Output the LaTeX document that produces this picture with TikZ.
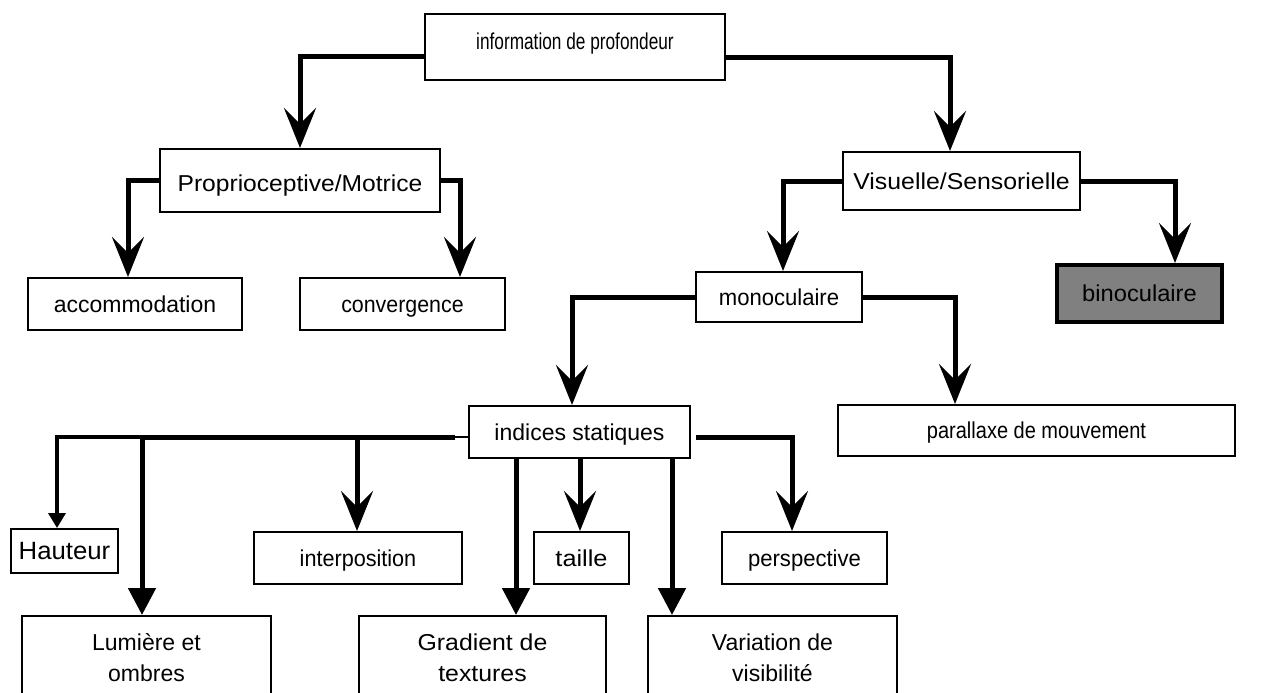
\documentclass[tikz,border=0pt]{standalone}
\usepackage{fontspec}
\setmainfont{Liberation Sans}
\usetikzlibrary{arrows.meta}

% horizontally scaled label text
\newcommand{\sx}[2]{\scalebox{#1}[1]{#2}}

\tikzset{
  box/.style={draw=black, line width=2pt, fill=white, inner sep=0pt,
              font=\fontsize{23}{31}\selectfont},
  one/.style={box, text height=19pt, text depth=3pt},
  two/.style={box, align=center, minimum width=#1, minimum height=84pt},
  conn/.style={line width=5pt, black},
  barb/.style={conn, -{Stealth[length=40pt, width=32pt, inset=16pt]}},
  tri/.style={conn, -{Triangle[length=27pt, width=27pt]}},
  smalltri/.style={line width=3.5pt, -{Triangle[length=15pt, width=17pt]}},
}

\begin{document}
\begin{tikzpicture}[x=1pt, y=-1pt]
\useasboundingbox (0,0) rectangle (1263,693);

% boxes
\node[one, minimum width=300pt, minimum height=66pt] (info) at (575,47) {\raisebox{5pt}{\sx{0.75}{information de profondeur}}};
\node[one, minimum width=280pt, minimum height=63pt] (prop) at (300,180.5) {\raisebox{-3pt}{\sx{1.07}{Proprioceptive/Motrice}}};
\node[one, minimum width=237pt, minimum height=58pt] (vis) at (961.5,181) {\sx{1.08}{Visuelle/Sensorielle}};
\node[one, minimum width=214pt, minimum height=52pt] (acc) at (135,304) {accommodation};
\node[one, minimum width=205pt, minimum height=52pt] (conv) at (402.5,304) {\sx{0.93}{convergence}};
\node[one, minimum width=166pt, minimum height=50pt] (mono) at (779,297) {\sx{0.96}{monoculaire}};
\node[one, line width=4pt, fill=black!50, minimum width=165pt, minimum height=57pt] (bino) at (1139.5,293.5) {\sx{1.03}{binoculaire}};
\node[one, minimum width=397pt, minimum height=51pt] (para) at (1036.5,430.5) {\sx{0.87}{parallaxe de mouvement}};
\node[one, minimum width=221pt, minimum height=52pt] (ind) at (579.5,432) {indices statiques};
\node[one, minimum width=107pt, minimum height=44pt, font=\fontsize{25}{31}\selectfont] (haut) at (64.5,551) {\sx{1.03}{Hauteur}};
\node[one, minimum width=208pt, minimum height=52pt] (interp) at (358,558) {\sx{0.94}{interposition}};
\node[one, minimum width=95pt, minimum height=52pt] (taille) at (581.5,558) {\sx{1.1}{taille}};
\node[one, minimum width=165pt, minimum height=52pt] (persp) at (804.5,558) {\sx{0.96}{perspective}};
\node[two=249pt] (lum) at (146.5,658) {Lumière et\\ombres};
\node[two=247pt] (grad) at (482.5,658) {\sx{1.08}{Gradient de}\\\sx{1.08}{textures}};
\node[two=249pt] (var) at (772.5,658) {Variation de\\visibilité};

% upper levels
\draw[barb] (info.west |- 0,57) -| (prop.north);
\draw[barb] (info.east |- 0,58) -| ([xshift=-11.5pt]vis.north);
\draw[barb] (prop.west) -| ([xshift=-7pt]acc.north);
\draw[barb] (prop.east) -| ([xshift=57.5pt]conv.north);
\draw[barb] (vis.west) -| ([xshift=4pt]mono.north);
\draw[barb] (vis.east) -| ([xshift=35.5pt]bino.north);
\draw[barb] (mono.west) -| ([xshift=-7.5pt]ind.north);
\draw[barb] (mono.east) -| ([xshift=-81.5pt]para.north);

% static cues
\coordinate (bus) at (455,437);
\draw[line width=2pt] (ind.west |- bus) -- (bus);
\draw[smalltri] (bus) -| ([xshift=-7.5pt]haut.north);
\draw[tri] (bus) -| ([xshift=-4.5pt]lum.north);
\draw[barb] (bus) -| ([xshift=-1pt]interp.north);
\draw[tri] (ind.south -| 516,0) -- (grad.north -| 516,0);
\draw[barb] (ind.south -| 580,0) -- (taille.north -| 580,0);
\draw[tri] (ind.south -| 672,0) -- (var.north -| 672,0);
\draw[barb] ([xshift=5pt]ind.east |- bus) -| ([xshift=-12.5pt]persp.north);
\end{tikzpicture}
\end{document}
